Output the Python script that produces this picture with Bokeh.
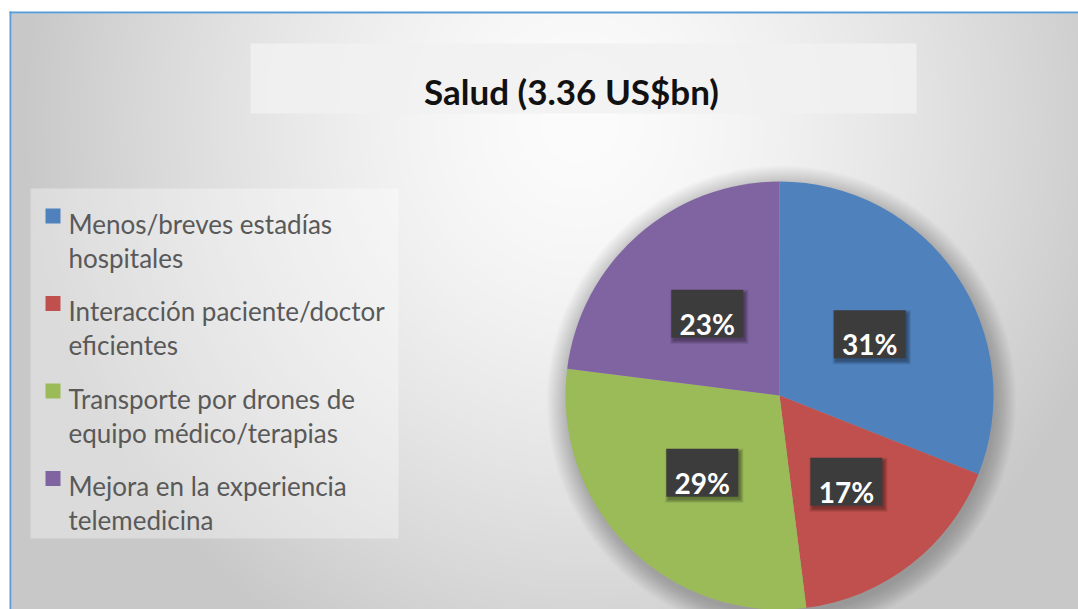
import numpy as np
from bokeh.plotting import figure
from bokeh.models import Range1d, ColumnDataSource
from bokeh.core.properties import value
from bokeh.embed import file_html
from bokeh.resources import INLINE

# ---------------- data ----------------
title_text = "Salud (3.36 US$bn)"
categories = [
    "Menos/breves estadías\nhospitales",
    "Interacción paciente/doctor\neficientes",
    "Transporte por drones de\nequipo médico/terapias",
    "Mejora en la experiencia\ntelemedicina",
]
shares = [31, 17, 29, 23]
colors = ["#4f81bd", "#c0504d", "#9bbb59", "#8064a2"]

FONT = "Lato"
PAGE_W, PAGE_H = 1078, 609


def sy(s):
    """screen y (px from top of window) -> data y"""
    return PAGE_H - s


p = figure(width=PAGE_W, height=PAGE_H,
           x_range=Range1d(0, PAGE_W), y_range=Range1d(0, PAGE_H),
           output_backend="svg", toolbar_location=None,
           x_axis_type=None, y_axis_type=None, min_border=0,
           outline_line_color=None,
           background_fill_color="white", border_fill_color="white")
p.grid.visible = False

# ---------------- background gradient ----------------
step = 2
xs = np.arange(11, 1078, step) + step / 2
ys = np.arange(13, 609, step) + step / 2
X, Y = np.meshgrid(xs, ys)
d = np.sqrt(((X - 580) / 560) ** 2 + ((Y - 120) / 600) ** 2)
v = 252 - 52 * np.clip(d, 0, 1) ** 1.5
img = np.zeros(X.shape, dtype=np.uint32)
view = img.view(dtype=np.uint8).reshape(X.shape + (4,))
v8 = v.astype(np.uint8)
view[..., 0] = v8
view[..., 1] = v8
view[..., 2] = v8
view[..., 3] = 255
img = img[::-1].copy()
p.image_rgba(image=[img], x=11, y=0, dw=1067, dh=596)

# border
p.quad(left=9, right=11, bottom=0, top=sy(11), fill_color="#5b9bd5", line_color=None)
p.quad(left=9, right=1078, bottom=sy(13), top=sy(11), fill_color="#5b9bd5", line_color=None)

# title box + title
p.quad(left=250, right=916, top=sy(43), bottom=sy(113),
       fill_color="#f1f1f1", fill_alpha=0.85, line_color=None)
p.text(x=[571], y=[sy(90)], text=[title_text], text_align="center",
       text_baseline="alphabetic", text_font=value(FONT), text_font_style="bold",
       text_font_size="35px", text_color="#111111")

# legend box
p.quad(left=30, right=398, top=sy(188), bottom=sy(538),
       fill_color="white", fill_alpha=0.35, line_color=None)
n = len(categories)
line1 = [c.split("\n")[0] for c in categories]
line2 = [c.split("\n")[1] if "\n" in c else "" for c in categories]
base = np.array([223 + 87.5 * i for i in range(n)])
p.rect(x=[52.5] * n, y=[sy(b - 7.5) for b in base], width=15, height=15,
       fill_color=colors, line_color=None)
p.text(x=[68] * n, y=[sy(b) for b in base], text=line1, text_align="left",
       text_baseline="alphabetic", text_font=value(FONT), text_font_size="26px",
       text_color="#595959")
p.text(x=[68] * n, y=[sy(b + 34) for b in base], text=line2, text_align="left",
       text_baseline="alphabetic", text_font=value(FONT), text_font_size="26px",
       text_color="#595959")

# ---------------- pie ----------------
cx, cy, r = 779, sy(395), 214
for k in range(20):
    p.circle(x=[cx + 2], y=[cy - 5], radius=r + k * 1.1, fill_color="black",
             fill_alpha=0.012, line_color=None)

fr = np.array(shares, dtype=float) / sum(shares)
cum = np.concatenate([[0.0], np.cumsum(fr)])
start = np.pi / 2 - cum[:-1] * 2 * np.pi
end = np.pi / 2 - cum[1:] * 2 * np.pi
src = ColumnDataSource(dict(start=start, end=end, color=colors))
p.wedge(x=cx, y=cy, radius=r, start_angle="start", end_angle="end",
        direction="clock", fill_color="color", line_color=None, source=src)

mid = np.pi / 2 - (cum[:-1] + cum[1:]) / 2 * 2 * np.pi
lx = cx + 0.51 * r * np.cos(mid)
ly = cy + 0.51 * r * np.sin(mid)
labels = [f"{s}%" for s in shares]
for k in range(4):
    p.rect(x=lx + 2, y=ly - 3, width=72 + 2 * k, height=48 + 2 * k, fill_color="black",
           fill_alpha=0.1, line_color=None)
p.rect(x=lx, y=ly, width=72, height=48, fill_color="#3c3c3c", line_color=None)
p.text(x=lx, y=ly - 10, text=labels, text_align="center", text_baseline="alphabetic",
       text_font=value(FONT), text_font_style="bold", text_font_size="28px",
       text_color="white")

open("out.html", "w").write(file_html(p, INLINE))
